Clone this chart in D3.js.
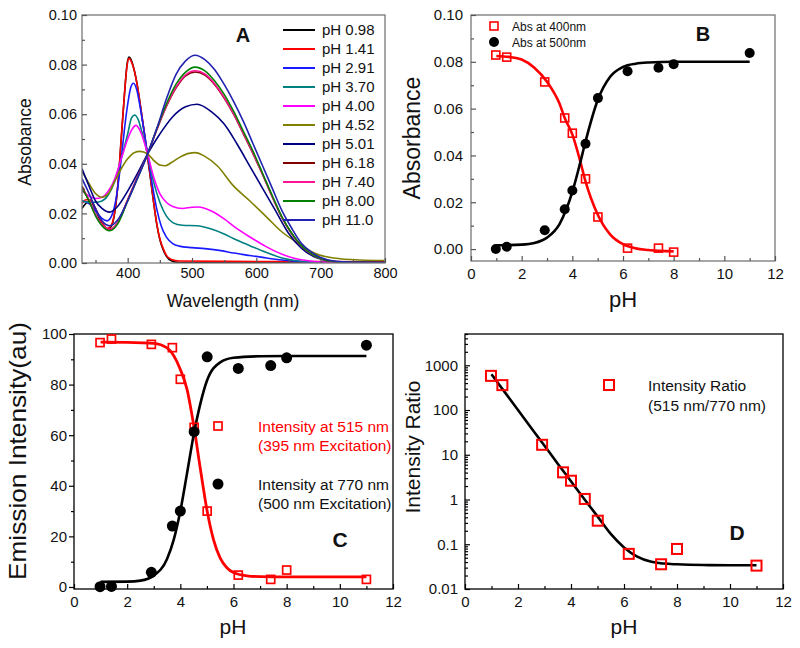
<!DOCTYPE html>
<html><head><meta charset="utf-8">
<script src="https://cdn.jsdelivr.net/npm/d3@7"></script>
<style>
body{margin:0;background:#fff}
svg{display:block}
text{font-family:Arial,"Liberation Sans",sans-serif}
</style>
</head><body>
<svg id="chart" width="800" height="648"></svg>
<script>
// ---------- Panel A: absorption spectra ----------
const wlTicks = [400, 500, 600, 700, 800];
const wlMinor = [350, 450, 550, 650, 750];
const absTicksA = [0, 0.02, 0.04, 0.06, 0.08, 0.10];
const absMinorA = [0.01, 0.03, 0.05, 0.07, 0.09];
const spectraLabels = ["pH 0.98","pH 1.41","pH 2.91","pH 3.70","pH 4.00","pH 4.52","pH 5.01","pH 6.18","pH 7.40","pH 8.00","pH 11.0"];
const spectraColors = ["#000000","#ff0000","#1a1aff","#008080","#ff00ff","#808000","#000080","#800000","#ff1493","#008000","#2323b0"];

const spec098 = [[329,0.022],[335,0.024],[342,0.025],[350,0.0215],[360,0.016],[368,0.0135],[375,0.015],[380,0.0205],[385,0.032],[390,0.050],[395,0.068],[399,0.080],[402,0.083],[406,0.0815],[410,0.078],[415,0.0715],[420,0.063],[425,0.054],[430,0.0445],[435,0.035],[440,0.025],[445,0.016],[450,0.0095],[455,0.0055],[460,0.0028],[468,0.0009],[480,0.0002],[600,0.0001],[800,0.0001]];
const spec141 = [[329,0.024],[335,0.0255],[342,0.0255],[350,0.022],[360,0.0165],[368,0.014],[375,0.0155],[380,0.021],[385,0.0325],[390,0.0505],[395,0.068],[399,0.0795],[402,0.0825],[406,0.081],[410,0.0778],[415,0.0715],[420,0.0632],[425,0.0542],[430,0.0447],[435,0.0352],[440,0.0252],[445,0.0162],[450,0.0098],[455,0.006],[460,0.0032],[468,0.0014],[480,0.0008],[600,0.0006],[800,0.0005]];
const spec291 = [[329,0.025],[340,0.024],[350,0.021],[360,0.018],[368,0.017],[375,0.019],[382,0.026],[390,0.042],[395,0.054],[400,0.064],[405,0.071],[409,0.0725],[414,0.070],[420,0.062],[425,0.054],[431,0.044],[438,0.032],[445,0.022],[452,0.015],[460,0.0105],[470,0.0078],[480,0.0068],[500,0.0062],[520,0.0058],[545,0.005],[565,0.004],[590,0.003],[616,0.002],[640,0.0012],[670,0.0005],[700,0.0002],[800,0.0001]];
const spec370 = [[329,0.025],[340,0.0245],[350,0.0245],[360,0.025],[370,0.0275],[380,0.033],[390,0.042],[400,0.052],[406,0.0585],[411,0.0597],[416,0.058],[422,0.053],[431,0.044],[440,0.033],[450,0.0245],[460,0.019],[470,0.0163],[485,0.0152],[507,0.015],[530,0.0137],[550,0.0117],[565,0.0098],[590,0.007],[616,0.0042],[640,0.002],[660,0.001],[700,0.0003],[800,0.0001]];
const spec400 = [[329,0.029],[340,0.027],[350,0.026],[360,0.0265],[370,0.029],[380,0.034],[390,0.042],[400,0.050],[407,0.054],[413,0.0555],[420,0.053],[431,0.044],[440,0.035],[450,0.028],[460,0.0245],[470,0.0228],[485,0.022],[500,0.0225],[510,0.0226],[530,0.021],[550,0.0178],[565,0.0148],[590,0.0105],[616,0.0065],[640,0.0035],[660,0.0018],[690,0.0006],[720,0.0002],[800,0.0001]];
const spec452 = [[329,0.037],[340,0.032],[350,0.028],[360,0.0265],[370,0.028],[380,0.033],[390,0.038],[400,0.042],[410,0.0445],[419,0.045],[431,0.044],[440,0.0415],[450,0.0395],[458,0.0392],[468,0.0405],[480,0.0425],[495,0.0442],[505,0.0445],[520,0.043],[540,0.039],[563,0.0315],[590,0.025],[616,0.0185],[640,0.0125],[668,0.0075],[690,0.004],[720,0.002],[760,0.0012],[800,0.001]];
const spec501 = [[329,0.038],[340,0.031],[350,0.025],[360,0.022],[372,0.0205],[385,0.023],[400,0.029],[415,0.036],[431,0.044],[450,0.052],[470,0.059],[490,0.063],[508,0.064],[530,0.061],[550,0.056],[570,0.048],[590,0.039],[610,0.030],[630,0.021],[650,0.012],[670,0.006],[690,0.0025],[710,0.001],[740,0.0003],[800,0.0002]];
const spec618 = [[329,0.031],[340,0.025],[350,0.0195],[360,0.0155],[372,0.0135],[385,0.0165],[400,0.0255],[415,0.0345],[431,0.044],[445,0.0535],[460,0.063],[475,0.0705],[490,0.0755],[505,0.077],[520,0.0758],[535,0.072],[550,0.0665],[565,0.0598],[580,0.052],[595,0.044],[610,0.0355],[625,0.0265],[640,0.0182],[655,0.0118],[670,0.0069],[685,0.0037],[700,0.0018],[720,0.0006],[750,0.0002],[800,0.0001]];
const spec740 = [[329,0.030],[340,0.0255],[350,0.0195],[360,0.0155],[372,0.0137],[385,0.0165],[400,0.0255],[415,0.0345],[431,0.044],[445,0.0537],[460,0.0633],[475,0.0708],[490,0.0758],[505,0.0775],[520,0.0762],[535,0.0723],[550,0.0668],[565,0.060],[580,0.0522],[595,0.0442],[610,0.0356],[625,0.0266],[640,0.0183],[655,0.0118],[670,0.0069],[685,0.0037],[700,0.0018],[720,0.0006],[750,0.0002],[800,0.0001]];
const spec800 = [[329,0.030],[340,0.025],[350,0.019],[360,0.015],[372,0.013],[385,0.016],[400,0.025],[415,0.034],[431,0.044],[445,0.054],[460,0.064],[475,0.072],[490,0.077],[505,0.079],[520,0.0775],[535,0.0735],[550,0.068],[565,0.061],[580,0.053],[595,0.045],[610,0.036],[625,0.027],[640,0.0185],[655,0.012],[670,0.007],[685,0.0038],[700,0.0018],[720,0.0006],[750,0.0002],[800,0.0001]];
const spec1100 = [[329,0.034],[340,0.028],[350,0.022],[360,0.017],[372,0.015],[385,0.0175],[400,0.025],[415,0.034],[431,0.044],[445,0.054],[460,0.066],[475,0.076],[490,0.0815],[505,0.0838],[520,0.082],[535,0.078],[550,0.072],[565,0.065],[580,0.057],[595,0.048],[610,0.039],[625,0.030],[640,0.021],[655,0.014],[670,0.008],[685,0.0045],[700,0.0022],[720,0.0008],[750,0.0003],[800,0.0002]];
const spectra = [spec098, spec141, spec291, spec370, spec400, spec452, spec501, spec618, spec740, spec800, spec1100];

// ---------- Panel B ----------
const pHvals = [0.98, 1.41, 2.91, 3.70, 4.00, 4.52, 5.01, 6.18, 7.40, 8.00, 11.0];
const abs400 = [0.0829, 0.082, 0.0714, 0.056, 0.0495, 0.030, 0.0137, 0.0004, 0.0004, -0.0013];
const abs500 = [0.0, 0.001, 0.008, 0.017, 0.025, 0.045, 0.0645, 0.076, 0.0775, 0.079, 0.0838];
const fitAbs400 = [[1,0.0825],[1.5,0.0821],[2,0.081],[2.5,0.0775],[3,0.0715],[3.5,0.062],[3.7,0.056],[4,0.049],[4.3,0.038],[4.5,0.0297],[5,0.0148],[5.5,0.0062],[6,0.0021],[6.5,0.0003],[7,-0.0004],[8,-0.001]];
const fitAbs500 = [[1,0.0016],[2,0.0019],[2.5,0.0026],[3,0.0049],[3.5,0.0108],[4,0.0244],[4.3,0.0364],[4.5,0.0451],[5,0.0636],[5.5,0.0737],[6,0.0778],[6.5,0.0792],[7,0.0797],[8,0.08],[11,0.08]];
const phTicks = [0, 2, 4, 6, 8, 10, 12];
const phMinor = [1, 3, 5, 7, 9, 11];
const absTicksB = [0, 0.02, 0.04, 0.06, 0.08, 0.10];
const absMinorB = [0.01, 0.03, 0.05, 0.07, 0.09];

// ---------- Panel C ----------
const em515 = [96.6, 98.0, 95.9, 94.6, 82.1, 63.1, 30.0, 4.7, 3.0, 6.7, 3.0];
const em770 = [0.1, 0.2, 5.8, 24.1, 30.0, 61.4, 91.0, 86.4, 87.5, 90.6, 95.6];
const fitEm515 = [[1,96.8],[2,96.7],[3,96.3],[3.5,94.5],[4,86],[4.25,78.2],[4.5,64.1],[4.75,46.9],[5,30.5],[5.25,18.6],[5.5,11.4],[5.75,7.6],[6,5.7],[6.5,4.4],[7,4.1],[8,4.0],[11,4.0]];
const fitEm770 = [[1,2.0],[2,2.1],[2.5,2.5],[3,4.5],[3.5,11.1],[3.75,18.6],[4,30],[4.25,44.8],[4.5,60],[4.75,72.3],[5,81.5],[5.5,88.8],[6,90.6],[7,91.2],[8,91.3],[11,91.3]];
const emTicks = [0, 20, 40, 60, 80, 100];
const emMinor = [10, 30, 50, 70, 90];

// ---------- Panel D ----------
const ratio = [580, 360, 16.7, 4.05, 2.63, 1.03, 0.336, 0.061, 0.0357, 0.0785, 0.0333];
const fitRatio = [[1,630],[1.5,251],[2,100],[2.5,39.8],[3,15.9],[3.5,6.33],[4,2.55],[4.5,1.03],[5,0.42],[5.5,0.17],[6,0.085],[6.5,0.053],[7,0.041],[7.5,0.037],[8,0.0356],[9,0.0343],[10,0.034],[11,0.034]];
const ratioTicks = [0.01, 0.1, 1, 10, 100, 1000];

// ---------- drawing ----------
const svg = d3.select("#chart");
const FONT = 'Arial, "Liberation Sans", sans-serif';

function frame(x0, y0, x1, y1, color) {
  svg.append("rect").attr("x", x0).attr("y", y0).attr("width", x1 - x0).attr("height", y1 - y0)
    .attr("fill", "none").attr("stroke", color).attr("stroke-width", 1.3);
}
function styleAxis(g, size, color) {
  g.select(".domain").remove();
  g.attr("font-family", FONT).attr("font-size", size);
  g.selectAll("line").attr("stroke", color).attr("stroke-width", 1.2);
  g.selectAll("text").attr("fill", "#111");
}
function xAxis(x, yPos, ticks, minor, fmt, pad, size, color) {
  const g = svg.append("g").attr("transform", `translate(0,${yPos})`)
    .call(d3.axisBottom(x).tickValues(ticks).tickFormat(fmt).tickSize(-5).tickPadding(pad));
  styleAxis(g, size, color);
  const m = svg.append("g").attr("transform", `translate(0,${yPos})`)
    .call(d3.axisBottom(x).tickValues(minor).tickFormat("").tickSize(-3));
  styleAxis(m, size, color);
}
function yAxis(y, xPos, ticks, minor, fmt, pad, size, color, outward) {
  const s = outward ? 5 : -5, sm = outward ? 3 : -3;
  const g = svg.append("g").attr("transform", `translate(${xPos},0)`)
    .call(d3.axisLeft(y).tickValues(ticks).tickFormat(fmt).tickSize(s).tickPadding(pad));
  styleAxis(g, size, color);
  const m = svg.append("g").attr("transform", `translate(${xPos},0)`)
    .call(d3.axisLeft(y).tickValues(minor).tickFormat("").tickSize(sm));
  styleAxis(m, size, color);
}
function label(txt, x, y, size, opts = {}) {
  const t = svg.append("text").attr("x", x).attr("y", y).attr("font-size", size)
    .attr("font-family", FONT).attr("fill", opts.fill || "#111")
    .attr("text-anchor", opts.anchor || "middle").text(txt);
  if (opts.rotate) t.attr("transform", `rotate(-90,${x},${y})`);
  if (opts.bold) t.attr("font-weight", "bold");
  if (opts.len) t.attr("textLength", opts.len).attr("lengthAdjust", "spacingAndGlyphs");
  return t;
}
function squares(x, y, xs, ys, size, sw) {
  svg.append("g").selectAll("rect").data(ys).join("rect")
    .attr("x", (d, i) => x(xs[i]) - size / 2).attr("y", d => y(d) - size / 2)
    .attr("width", size).attr("height", size)
    .attr("fill", "none").attr("stroke", "#ff0000").attr("stroke-width", sw);
}
function dots(x, y, xs, ys, r) {
  svg.append("g").selectAll("circle").data(ys).join("circle")
    .attr("cx", (d, i) => x(xs[i])).attr("cy", d => y(d)).attr("r", r).attr("fill", "#000");
}
function fitLine(x, y, data, color, w) {
  svg.append("path").datum(data)
    .attr("d", d3.line().x(d => x(d[0])).y(d => y(d[1])).curve(d3.curveMonotoneX))
    .attr("fill", "none").attr("stroke", color).attr("stroke-width", w);
}

// ===== Panel A =====
{
  const x = d3.scaleLinear().domain([329, 800]).range([82, 385]);
  const y = d3.scaleLinear().domain([0, 0.10]).range([263, 15]);
  svg.append("clipPath").attr("id", "clipA").append("rect")
    .attr("x", 82).attr("y", 15).attr("width", 303).attr("height", 248);
  const line = d3.line().x(d => x(d[0])).y(d => y(d[1])).curve(d3.curveMonotoneX);
  const gl = svg.append("g").attr("clip-path", "url(#clipA)");
  spectra.forEach((s, i) => {
    gl.append("path").datum(s).attr("d", line).attr("fill", "none")
      .attr("stroke", spectraColors[i]).attr("stroke-width", 1.6);
  });
  frame(82, 15, 385, 263, "#777");
  xAxis(x, 263, wlTicks, wlMinor, d3.format("d"), 5, 14.5, "#555");
  yAxis(y, 82, absTicksA, absMinorA, d3.format(".2f"), 5, 14.5, "#555", false);
  label("Wavelength (nm)", 233, 307, 17.5);
  label("Absobance", 31, 142, 17.5, { rotate: true });
  label("A", 243, 42, 20, { bold: true });
  const lg = svg.append("g");
  spectraLabels.forEach((t, i) => {
    const cy = 30 + i * 19;
    lg.append("line").attr("x1", 283).attr("x2", 315).attr("y1", cy).attr("y2", cy)
      .attr("stroke", spectraColors[i]).attr("stroke-width", 2);
    lg.append("text").attr("x", 322).attr("y", cy + 5).attr("font-size", 15)
      .attr("font-family", FONT).attr("fill", "#111").text(t);
  });
}

// ===== Panel B =====
{
  const x = d3.scaleLinear().domain([0, 12]).range([471, 775]);
  const y = d3.scaleLinear().domain([-0.0051, 0.10]).range([261, 15]);
  frame(471, 15, 775, 261, "#777");
  xAxis(x, 261, phTicks, phMinor, d3.format("d"), 7, 15, "#555");
  yAxis(y, 471, absTicksB, absMinorB, d3.format(".2f"), 8, 15, "#555", false);
  fitLine(x, y, fitAbs400, "#ff0000", 2.6);
  fitLine(x, y, fitAbs500, "#000", 2.6);
  squares(x, y, pHvals.slice(0, abs400.length), abs400, 8, 1.6);
  dots(x, y, pHvals, abs500, 5);
  label("pH", 623, 307, 22);
  label("Absorbance", 420, 138, 23, { rotate: true });
  label("B", 703, 41, 20, { bold: true });
  svg.append("rect").attr("x", 490).attr("y", 22).attr("width", 8).attr("height", 8)
    .attr("fill", "none").attr("stroke", "#ff0000").attr("stroke-width", 1.6);
  svg.append("circle").attr("cx", 494).attr("cy", 42).attr("r", 5).attr("fill", "#000");
  label("Abs at 400nm", 512, 30.5, 12, { anchor: "start" });
  label("Abs at 500nm", 512, 46.5, 12, { anchor: "start" });
}

// ===== Panel C =====
{
  const x = d3.scaleLinear().domain([0, 12]).range([74, 393]);
  const y = d3.scaleLinear().domain([-0.8, 100]).range([589, 334]);
  frame(74, 334, 393, 589, "#000");
  xAxis(x, 589, phTicks, phMinor, d3.format("d"), 7, 15, "#000");
  yAxis(y, 74, emTicks, emMinor, d3.format("d"), 2, 15, "#000", true);
  fitLine(x, y, fitEm515, "#ff0000", 2.8);
  fitLine(x, y, fitEm770, "#000", 2.6);
  squares(x, y, pHvals, em515, 8, 1.7);
  dots(x, y, pHvals, em770, 5.5);
  label("pH", 233, 634, 21);
  label("Emission Intensity(au)", 26, 451, 24, { rotate: true, len: 258 });
  label("C", 340, 547, 21, { bold: true });
  svg.append("rect").attr("x", 214).attr("y", 422).attr("width", 8).attr("height", 8)
    .attr("fill", "none").attr("stroke", "#ff0000").attr("stroke-width", 1.7);
  svg.append("circle").attr("cx", 218).attr("cy", 484).attr("r", 5.5).attr("fill", "#000");
  label("Intensity at 515 nm", 258, 432, 15.5, { anchor: "start", fill: "#ff0000" });
  label("(395 nm Excitation)", 258, 451, 15.5, { anchor: "start", fill: "#ff0000" });
  label("Intensity at 770 nm", 258, 490, 15.5, { anchor: "start" });
  label("(500 nm Excitation)", 258, 509, 15.5, { anchor: "start" });
}

// ===== Panel D =====
{
  const x = d3.scaleLinear().domain([0, 12]).range([465, 783]);
  const y = d3.scaleLog().domain([0.01, 5000]).range([589, 334]);
  const minor = [];
  [0.01, 0.1, 1, 10, 100, 1000].forEach(b => { for (let k = 2; k <= 9; k++) { if (b * k <= 5000) minor.push(b * k); } });
  frame(465, 334, 783, 589, "#000");
  xAxis(x, 589, phTicks, phMinor, d3.format("d"), 7, 15, "#000");
  yAxis(y, 465, ratioTicks, minor, d => (d >= 1 ? d3.format("d")(d) : String(d)), 7, 15, "#000", false);
  fitLine(x, y, fitRatio, "#000", 2.6);
  squares(x, y, pHvals, ratio, 10, 2);
  label("pH", 624, 634, 21);
  label("Intensity Ratio", 420, 447, 21, { rotate: true });
  label("D", 737, 540, 21, { bold: true });
  svg.append("rect").attr("x", 604).attr("y", 380).attr("width", 10).attr("height", 10)
    .attr("fill", "none").attr("stroke", "#ff0000").attr("stroke-width", 2);
  label("Intensity Ratio", 648, 391, 15.5, { anchor: "start" });
  label("(515 nm/770 nm)", 648, 411, 15.5, { anchor: "start" });
}
</script>
</body></html>
